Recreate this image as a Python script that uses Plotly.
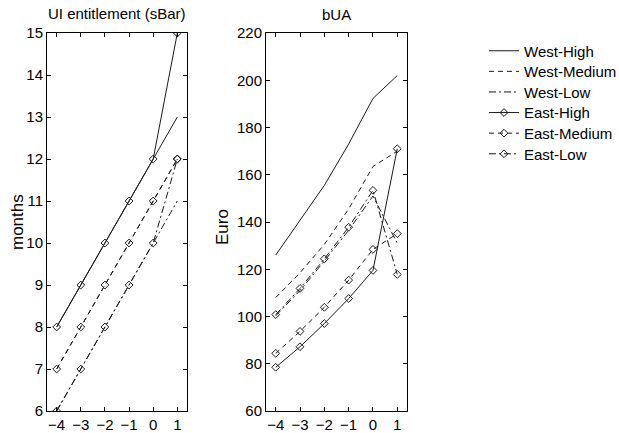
import plotly.graph_objects as go

# Periods relative to reform (x axis)
periods = [-4, -3, -2, -1, 0, 1]

series_names = ["West-High", "West-Medium", "West-Low", "East-High", "East-Medium", "East-Low"]

# UI entitlement (months)
ui_west_high = [8, 9, 10, 11, 12, 13]
ui_west_medium = [7, 8, 9, 10, 11, 12]
ui_west_low = [6, 7, 8, 9, 10, 11]
ui_east_high = [8, 9, 10, 11, 12, 15]
ui_east_medium = [7, 8, 9, 10, 11, 12]
ui_east_low = [6, 7, 8, 9, 10, 12]

# bUA (Euro)
bua_west_high = [126, 140.5, 155.5, 173, 192.3, 202]
bua_west_medium = [108, 118.5, 130.5, 145.5, 163.5, 170]
bua_west_low = [100.3, 111, 123.5, 136.5, 151, 131]
bua_east_high = [78.5, 87.2, 97, 107.6, 119.5, 171]
bua_east_medium = [84.4, 93.7, 103.9, 115.4, 128.4, 135.1]
bua_east_low = [100.8, 111.9, 124.4, 137.8, 153.4, 117.8]

ui_data = [ui_west_high, ui_west_medium, ui_west_low, ui_east_high, ui_east_medium, ui_east_low]
bua_data = [bua_west_high, bua_west_medium, bua_west_low, bua_east_high, bua_east_medium, bua_east_low]

dashes = ["solid", "5px,4px", "7px,3px,2px,3px", "solid", "5px,4px", "7px,3px,2px,3px"]
has_marker = [False, False, False, True, True, True]

W, H = 619, 433
FONT = "Liberation Sans, Arial, sans-serif"
INK = "#1a1a1a"

# one single-entry legend per series, stacked down the right side
legend_ids = ["legend"] + [f"legend{k}" for k in range(2, len(series_names) + 1)]
legend_top_px, legend_step_px = 51, 20.6

fig = go.Figure()

for i, name in enumerate(series_names):
    mode = "lines+markers" if has_marker[i] else "lines"
    common = dict(
        mode=mode,
        line=dict(color=INK, width=1, dash=dashes[i]),
        marker=dict(symbol="diamond-open", size=6, color=INK, line=dict(width=1, color=INK)),
    )
    fig.add_trace(go.Scatter(x=periods, y=ui_data[i], name=name, legendgroup=name,
                             legend=legend_ids[i], showlegend=True,
                             xaxis="x", yaxis="y", **common))
    fig.add_trace(go.Scatter(x=periods, y=bua_data[i], name=name, legendgroup=name,
                             showlegend=False, xaxis="x2", yaxis="y2", **common))

ydom = [1 - 411 / H, 1 - 33 / H]
dom1 = [47 / W, 187 / W]
dom2 = [266 / W, 407 / W]

axis_style = dict(
    showline=True, linecolor="black", linewidth=1, mirror="ticks",
    ticks="inside", ticklen=4, tickcolor="black", tickwidth=1,
    showgrid=False, zeroline=False, automargin=False,
    tickfont=dict(family=FONT, size=15, color="black"),
)

legend_layout = {}
for i, lid in enumerate(legend_ids):
    legend_layout[lid] = dict(
        x=484 / W, y=1 - (legend_top_px + i * legend_step_px) / H,
        xanchor="left", yanchor="middle",
        bgcolor="rgba(0,0,0,0)", borderwidth=0,
        font=dict(family=FONT, size=15, color="black"),
        itemwidth=30,
    )

fig.update_layout(
    width=W, height=H,
    margin=dict(l=0, r=0, t=0, b=0, autoexpand=False),
    paper_bgcolor="white", plot_bgcolor="white",
    font=dict(family=FONT, size=15, color="black"),
    xaxis=dict(domain=dom1, range=[-4.4, 1.4], tickvals=periods, anchor="y", **axis_style),
    yaxis=dict(domain=ydom, range=[6, 15], dtick=1, anchor="x", **axis_style),
    xaxis2=dict(domain=dom2, range=[-4.4, 1.4], tickvals=periods, anchor="y2", **axis_style),
    yaxis2=dict(domain=ydom, range=[60, 220], dtick=20, anchor="x2", **axis_style),
    annotations=[
        dict(text="UI entitlement (sBar)", x=(dom1[0] + dom1[1]) / 2, y=1 - 13 / H,
             xref="paper", yref="paper", showarrow=False, xanchor="center", yanchor="middle",
             font=dict(family=FONT, size=15, color="black")),
        dict(text="bUA", x=(dom2[0] + dom2[1]) / 2, y=1 - 15 / H,
             xref="paper", yref="paper", showarrow=False, xanchor="center", yanchor="middle",
             font=dict(family=FONT, size=15, color="black")),
        dict(text="months", x=17 / W, y=1 - 222 / H, textangle=-90,
             xref="paper", yref="paper", showarrow=False, xanchor="center", yanchor="middle",
             font=dict(family=FONT, size=17, color="black")),
        dict(text="Euro", x=222 / W, y=1 - 227 / H, textangle=-90,
             xref="paper", yref="paper", showarrow=False, xanchor="center", yanchor="middle",
             font=dict(family=FONT, size=17, color="black")),
    ],
    **legend_layout,
)

fig.write_html("out.html")
